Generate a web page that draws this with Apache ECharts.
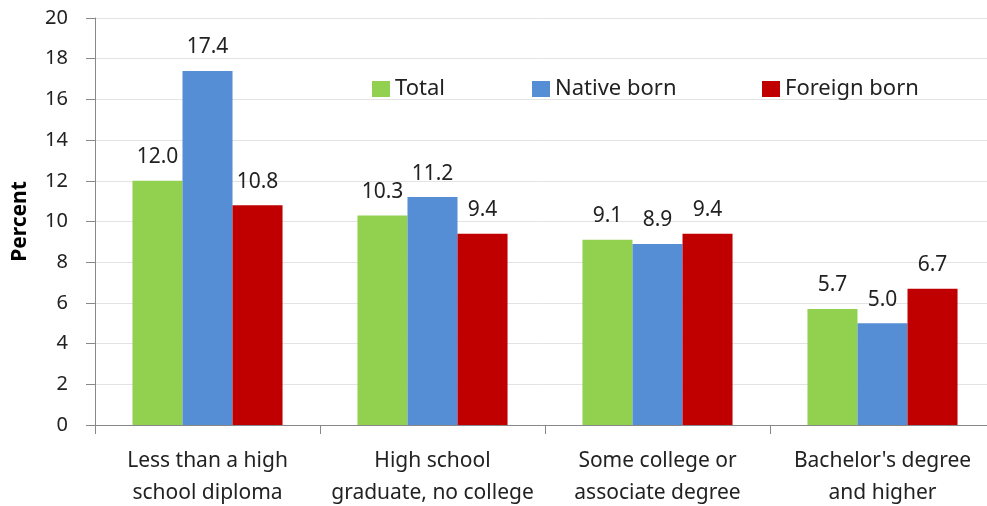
<!DOCTYPE html>
<html>
<head>
<meta charset="utf-8">
<script src="https://cdn.jsdelivr.net/npm/echarts@6/dist/echarts.min.js"></script>
<style>
  html, body { margin: 0; padding: 0; background: #fff; }
  #chart { width: 987px; height: 506px; }
</style>
</head>
<body>
<div id="chart"></div>
<script>
// categories and values
const categories = [
  'Less than a high\nschool diploma',
  'High school\ngraduate, no college',
  'Some college or\nassociate degree',
  "Bachelor's degree\nand higher"
]
const total = [12.0, 10.3, 9.1, 5.7]
const nativeBorn = [17.4, 11.2, 8.9, 5.0]
const foreignBorn = [10.8, 9.4, 9.4, 6.7]
const yTicks = [0, 2, 4, 6, 8, 10, 12, 14, 16, 18, 20]

const font = '"Noto Sans", "Open Sans", sans-serif'

function barSeries (name, data, color) {
  return {
    name: name,
    type: 'bar',
    data: data,
    barGap: '0%',
    barCategoryGap: '33.3%',
    itemStyle: { color: color },
    label: {
      show: true,
      position: 'top',
      distance: 13,
      formatter: p => p.value.toFixed(1),
      fontFamily: font,
      fontSize: 21,
      color: '#222'
    }
  }
}

function legendAt (name, left) {
  return {
    data: [name],
    left: left,
    top: 78,
    padding: 0,
    icon: 'rect',
    itemWidth: 18,
    itemHeight: 16,
    textStyle: { fontFamily: font, fontSize: 22, color: '#222' }
  }
}

const chart = echarts.init(document.getElementById('chart'))
chart.setOption({
  animation: false,
  legend: [
    legendAt('Total', 372),
    legendAt('Native born', 532),
    legendAt('Foreign born', 762)
  ],
  grid: { left: 95, right: -8, top: 18, bottom: 81, outerBoundsMode: 'none', containLabel: false },
  xAxis: {
    type: 'category',
    data: categories,
    axisLine: { lineStyle: { color: '#888' } },
    axisTick: { show: true, interval: 0, length: 9, lineStyle: { color: '#888' } },
    axisLabel: {
      interval: 0,
      margin: 20,
      fontFamily: font,
      fontSize: 21,
      lineHeight: 32,
      color: '#222'
    }
  },
  yAxis: {
    type: 'value',
    min: yTicks[0],
    max: yTicks[yTicks.length - 1],
    interval: 2,
    name: 'Percent',
    nameLocation: 'middle',
    nameGap: 64,
    nameTextStyle: { fontFamily: font, fontSize: 21, fontWeight: 'bold', color: '#000' },
    axisLine: { show: true, lineStyle: { color: '#888' } },
    axisTick: { show: true, length: 9, lineStyle: { color: '#888' } },
    axisLabel: { margin: 27, fontFamily: font, fontSize: 20, color: '#222' },
    splitLine: { show: true, lineStyle: { color: '#e3e3e3' } }
  },
  series: [
    barSeries('Total', total, '#92d050'),
    barSeries('Native born', nativeBorn, '#558ed5'),
    barSeries('Foreign born', foreignBorn, '#c00000')
  ]
})
</script>
</body>
</html>
